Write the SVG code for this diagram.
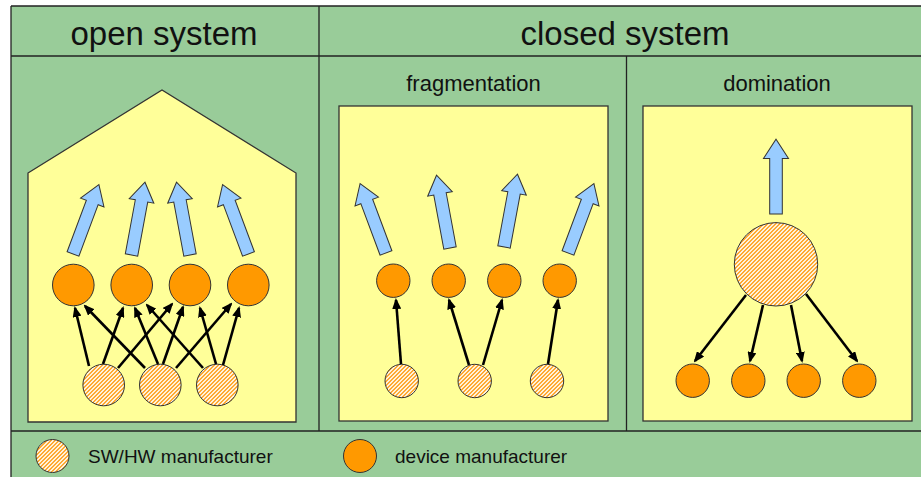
<svg xmlns="http://www.w3.org/2000/svg" width="921" height="477" viewBox="0 0 921 477">
  <defs>
    <!-- fine pixel-aligned upward diagonal hatch used for SW/HW manufacturer discs -->
    <pattern id="hatch" patternUnits="userSpaceOnUse" width="4" height="4">
      <rect width="4" height="4" fill="#FFF2DA"/>
      <path d="M2,0h2v1h-2z M1,1h2v1h-2z M0,2h2v1h-2z M0,3h1v1h-1z M3,3h1v1h-1z" fill="#FFA933"/>
    </pattern>
    <marker id="head" markerUnits="userSpaceOnUse" markerWidth="11" markerHeight="9" refX="9" refY="4.5" orient="auto">
      <path d="M0,0 L11,4.5 L0,9 Z" fill="#000"/>
    </marker>
    <!-- block arrow pointing up, base centre at origin -->
    <path id="blk" d="M-6.3,0 V-55 H-12.5 L0,-74 L12.5,-55 H6.3 V0 Z"/>
  </defs>
  <style>
    .frame{fill:none;stroke:#222;stroke-width:1.3}
    .panel{fill:#FFFF99;stroke:#333;stroke-width:1.3}
    .dev{fill:#FF9900;stroke:#333;stroke-width:1}
    .mfr{fill:url(#hatch);stroke:#333;stroke-width:1}
    .out{fill:#99CCFF;stroke:#333;stroke-width:1}
    .conn line{stroke:#000;stroke-width:2.6;marker-end:url(#head)}
    text{font-family:"Liberation Sans",Arial,sans-serif;fill:#111}
    .h1{font-size:33px;text-anchor:middle}
    .h2{font-size:22px;text-anchor:middle}
    .lg{font-size:19px}
  </style>

  <!-- table background and rules -->
  <g id="table">
    <rect x="11" y="6" width="910" height="471" fill="#99CC99"/>
    <path class="frame" d="M11,6 H921 M11,6 V477 M11,56 H921 M11,431 H921 M319,6 V431 M626.5,56 V431"/>
    <text class="h1" x="164" y="45">open system</text>
    <text class="h1" x="625" y="45">closed system</text>
    <text class="h2" x="473.5" y="91">fragmentation</text>
    <text class="h2" x="777" y="91">domination</text>
  </g>

  <!-- panels -->
  <g id="open-panel">
    <polygon class="panel" points="28,173 162,90 296,173 296,422 28,422"/>
  </g>
  <g id="fragmentation-panel">
    <rect class="panel" x="339" y="106" width="269" height="315"/>
  </g>
  <g id="domination-panel">
    <rect class="panel" x="643" y="106" width="269" height="315"/>
  </g>

  <!-- open system -->
  <g id="open-outputs" class="out">
    <use href="#blk" transform="translate(73,254) rotate(20.5)"/>
    <use href="#blk" transform="translate(131.5,255) rotate(10.5)"/>
    <use href="#blk" transform="translate(190,255) rotate(-10.5)"/>
    <use href="#blk" transform="translate(248.5,254) rotate(-20.5)"/>
  </g>
  <g id="open-dev1"><circle class="dev" cx="73.3" cy="285" r="20.8"/></g>
  <g id="open-dev2"><circle class="dev" cx="131.7" cy="285" r="20.8"/></g>
  <g id="open-dev3"><circle class="dev" cx="190" cy="285" r="20.8"/></g>
  <g id="open-dev4"><circle class="dev" cx="248.3" cy="285" r="20.8"/></g>
  <g id="open-mfr1"><circle class="mfr" cx="103.7" cy="385" r="20.8"/></g>
  <g id="open-mfr2"><circle class="mfr" cx="160.3" cy="385" r="20.8"/></g>
  <g id="open-mfr3"><circle class="mfr" cx="217.3" cy="385" r="20.8"/></g>

  <!-- fragmentation -->
  <g id="frag-outputs" class="out">
    <use href="#blk" transform="translate(386,253) rotate(-20.5)"/>
    <use href="#blk" transform="translate(450,248) rotate(-10.5)"/>
    <use href="#blk" transform="translate(504,247) rotate(10.5)"/>
    <use href="#blk" transform="translate(568,253) rotate(20.5)"/>
  </g>
  <g id="frag-dev1"><circle class="dev" cx="393.3" cy="280.7" r="16.7"/></g>
  <g id="frag-dev2"><circle class="dev" cx="448.7" cy="280.7" r="16.7"/></g>
  <g id="frag-dev3"><circle class="dev" cx="504.3" cy="280.7" r="16.7"/></g>
  <g id="frag-dev4"><circle class="dev" cx="559.7" cy="280.7" r="16.7"/></g>
  <g id="frag-mfr1"><circle class="mfr" cx="401.7" cy="381" r="16.7"/></g>
  <g id="frag-mfr2"><circle class="mfr" cx="474.7" cy="381" r="16.7"/></g>
  <g id="frag-mfr3"><circle class="mfr" cx="547" cy="381" r="16.7"/></g>

  <!-- domination -->
  <g id="dom-output" class="out">
    <use href="#blk" transform="translate(776,214) scale(1,1.01)"/>
  </g>
  <g id="dom-mfr"><circle class="mfr" cx="776" cy="264.3" r="41.7"/></g>
  <g id="dom-dev1"><circle class="dev" cx="692.7" cy="380.7" r="16.7"/></g>
  <g id="dom-dev2"><circle class="dev" cx="748.3" cy="380.7" r="16.7"/></g>
  <g id="dom-dev3"><circle class="dev" cx="803.7" cy="380.7" r="16.7"/></g>
  <g id="dom-dev4"><circle class="dev" cx="859.3" cy="380.7" r="16.7"/></g>

  <!-- supply connectors -->
  <g id="connectors" class="conn">
    <line x1="89" y1="366" x2="75" y2="308"/>
    <line x1="103" y1="364" x2="123" y2="308"/>
    <line x1="118" y1="368" x2="172" y2="304"/>
    <line x1="145" y1="368" x2="85" y2="306"/>
    <line x1="158" y1="364" x2="135" y2="308"/>
    <line x1="163" y1="364" x2="183" y2="307"/>
    <line x1="176" y1="368" x2="231" y2="304"/>
    <line x1="203" y1="368" x2="147" y2="305"/>
    <line x1="216" y1="364" x2="200" y2="308"/>
    <line x1="223" y1="365" x2="239" y2="308"/>

    <line x1="401" y1="364" x2="396" y2="300"/>
    <line x1="469" y1="365" x2="449" y2="300"/>
    <line x1="483" y1="365" x2="502" y2="300"/>
    <line x1="548" y1="364" x2="558" y2="300"/>

    <line x1="746" y1="295" x2="695" y2="361"/>
    <line x1="763" y1="305" x2="750" y2="361"/>
    <line x1="791" y1="305" x2="802" y2="361"/>
    <line x1="806" y1="294" x2="857" y2="361"/>
  </g>

  <!-- legend -->
  <g id="legend-mfr">
    <circle class="mfr" cx="52.5" cy="456" r="16.5"/>
    <text class="lg" x="88" y="463">SW/HW manufacturer</text>
  </g>
  <g id="legend-dev">
    <circle class="dev" cx="360" cy="456" r="16.5"/>
    <text class="lg" x="395" y="463">device manufacturer</text>
  </g>
</svg>
